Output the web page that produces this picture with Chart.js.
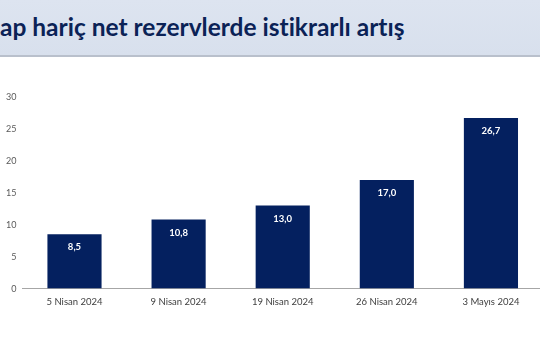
<!DOCTYPE html>
<html><head><meta charset="utf-8">
<script src="https://cdn.jsdelivr.net/npm/chart.js@4"></script>
<style>
html,body{margin:0;padding:0;width:540px;height:360px;overflow:hidden;background:#fff;}
#band{position:absolute;left:0;top:0;width:540px;height:55px;background:linear-gradient(#dde4f0,#d8e0ed);border-bottom:2px solid #b9c0cc;}
#title{position:absolute;left:0;top:12px;font-family:Lato,"Open Sans",sans-serif;font-weight:bold;font-size:24.5px;color:#0b2256;white-space:nowrap;font-variant-ligatures:none;}
#wrap{position:absolute;left:0;top:62px;width:543px;height:260px;}
</style></head>
<body>
<div id="band"><div id="title">ap hariç net rezervlerde istikrarlı artış</div></div>
<div id="wrap"><canvas id="c"></canvas></div>
<script>
const categories = ["5 Nisan 2024","9 Nisan 2024","19 Nisan 2024","26 Nisan 2024","3 Mayıs 2024"];
const values = [8.5, 10.8, 13.0, 17.0, 26.7];
const yTicks = [0,5,10,15,20,25,30];

const labelPlugin = {
  id:'barLabels',
  afterDatasetsDraw(chart){
    const ctx = chart.ctx;
    const meta = chart.getDatasetMeta(0);
    ctx.save();
    ctx.font = 'bold 9.5px Lato, "Open Sans", sans-serif';
    ctx.fillStyle = '#ffffff';
    ctx.textAlign = 'center';
    ctx.textBaseline = 'middle';
    meta.data.forEach((bar,i)=>{
      ctx.fillText(values[i].toFixed(1).replace('.',','), bar.x, bar.y + 13);
    });
    ctx.restore();
  }
};

new Chart(document.getElementById('c'),{
  type:'bar',
  data:{labels:categories,datasets:[{data:values,backgroundColor:'#04205f',borderWidth:0,categoryPercentage:1,barPercentage:0.52}]},
  options:{
    responsive:true,maintainAspectRatio:false,animation:false,
    layout:{padding:{top:35,bottom:6,left:0,right:0}},
    plugins:{legend:{display:false},tooltip:{enabled:false}},
    scales:{
      x:{grid:{display:false,drawTicks:false},border:{display:true,color:'#a6a6a6',width:1},
         ticks:{color:'#404040',font:{family:'Lato, "Open Sans", sans-serif',size:9.5},padding:8}},
      y:{min:0,max:30,afterBuildTicks:(ax)=>{ax.ticks=yTicks.map(v=>({value:v}));},
         grid:{display:false,drawTicks:false},border:{display:false},
         ticks:{color:'#595959',font:{family:'Lato, "Open Sans", sans-serif',size:9},padding:6}}
    }
  },
  plugins:[labelPlugin]
});
</script>
</body></html>
